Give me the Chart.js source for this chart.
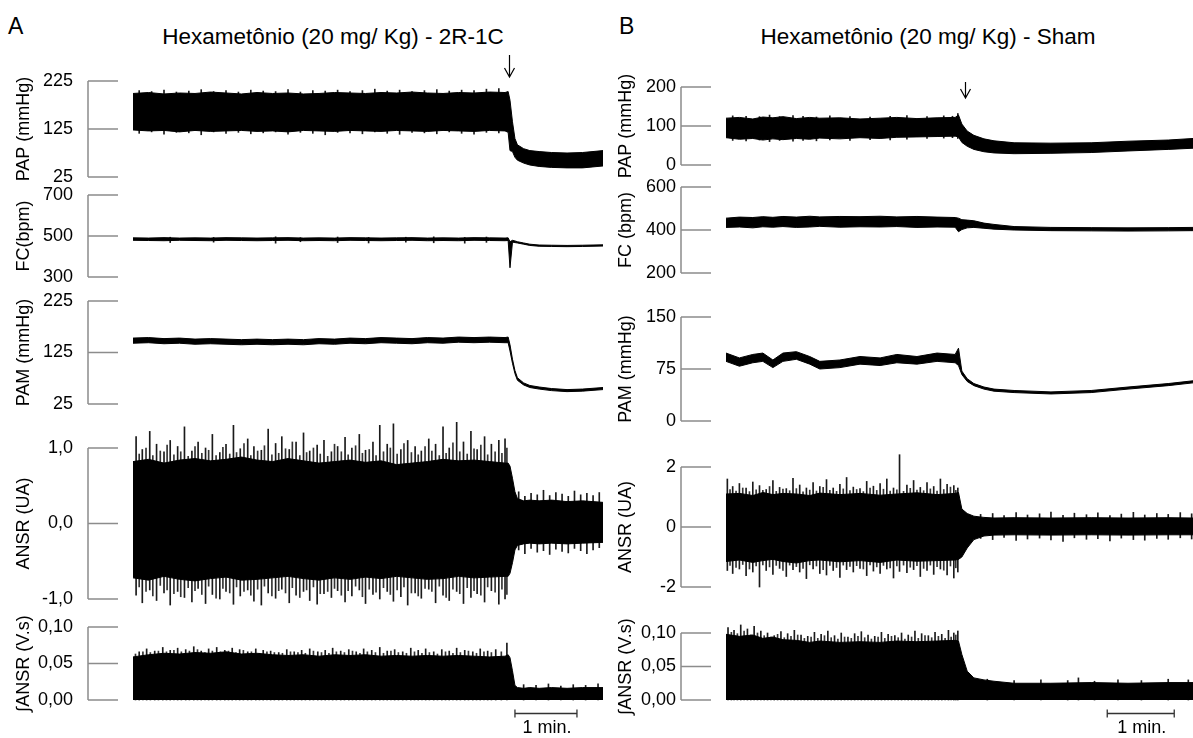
<!DOCTYPE html>
<html>
<head>
<meta charset="utf-8">
<script src="https://cdn.jsdelivr.net/npm/chart.js@4.4.0/dist/chart.umd.min.js"></script>
<style>
body { margin: 0; width: 1193px; height: 738px; overflow: hidden; background: #fff; position: relative;
       font-family: "Liberation Sans", Arial, sans-serif; }
canvas { position: absolute; }
.lbl { position: absolute; color: #000; white-space: nowrap; line-height: 1; }
</style>
</head>
<body>
<div class="lbl" style="left:8px;top:15px;font-size:23px">A</div>
<div class="lbl" style="left:619px;top:15px;font-size:23px">B</div>
<div class="lbl" style="left:333px;top:26px;font-size:22.5px;transform:translateX(-50%)">Hexametônio (20 mg/ Kg) - 2R-1C</div>
<div class="lbl" style="left:928px;top:26px;font-size:22.5px;transform:translateX(-50%)">Hexametônio (20 mg/ Kg) - Sham</div>
<script>
var FONT = '"Liberation Sans", Arial, sans-serif';

// ---- painel A (2R-1C), tempo em minutos ----
var tA = [0,0.25,0.5,0.75,1,1.25,1.5,1.75,2,2.25,2.5,2.75,3,3.25,3.5,3.75,4,4.25,4.5,4.75,5,5.25,5.5,5.75,6,
          6.05,6.08,6.12,6.16,6.2,6.3,6.4,6.55,6.75,7,7.25,7.58];
var tmaxA = 7.58, drugA = 6.06, barA = 6.16;

var papA_hi = [199,201,198,200,199,202,200,198,201,199,200,198,199,201,200,199,201,200,202,200,199,201,200,202,201,
               203,185,140,105,92,84,80,78,76,75,76,80];
var papA_lo = [123,121,122,119,122,120,121,122,120,121,119,122,121,120,122,121,120,122,121,120,122,121,120,122,121,
               118,80,78,66,60,54,50,47,45,44,44,48];
var papA_spkT = [0.1,0.3,0.5,0.7,0.9,1.1,1.3,1.5,1.7,1.9,2.1,2.3,2.5,2.7,2.9,3.1,3.3,3.5,3.7,3.9,4.1,4.3,4.5,4.7,4.9,5.1,5.3,5.5,5.7,5.9];
var papA_spkHi = [205,203,206,202,204,207,203,205,202,206,204,203,207,202,205,204,206,203,205,208,204,206,203,205,207,204,206,205,208,209];
var papA_spkLo = [116,119,114,118,117,113,119,116,118,115,117,119,114,118,116,113,118,117,115,119,116,114,118,117,115,119,116,114,118,117];

var fcA_hi = [491,490,492,490,491,490,492,491,490,491,492,490,491,490,492,491,490,491,492,490,491,490,492,491,490,
              491,472,479,476,472,466,460,456,455,454,455,457];
var fcA_lo = [479,478,477,479,478,477,479,478,477,478,479,477,478,477,479,478,477,478,479,477,478,477,479,478,477,
              478,345,470,468,466,460,454,450,449,448,449,451];
var fcA_spkT = [0.6,1.3,2.3,2.7,3.3,3.8,4.4,4.85,5.35,5.7];
var fcA_spkLo = [468,470,465,472,468,466,470,467,465,469];
var fcA_spkHi = [494,493,496,492,495,493,494,496,493,495];

var pamA_hi = [153,154,152,153,151,152,151,150,151,150,151,150,152,151,153,152,154,153,152,154,153,155,154,155,154,
               155,140,112,90,76,66,61,58,55,53,54,57];
var pamA_lo = [143,144,142,143,141,142,141,140,141,140,141,140,142,141,143,142,144,143,142,144,143,145,144,145,144,
               144,128,104,84,71,62,57,54,51,49,50,53];

var ansrA_hi = [0.82,0.85,0.80,0.84,0.86,0.83,0.85,0.88,0.84,0.82,0.86,0.83,0.80,0.82,0.84,0.81,0.83,0.78,0.80,0.82,0.85,0.83,0.84,0.82,0.80,
                0.80,0.76,0.60,0.42,0.33,0.30,0.31,0.30,0.31,0.29,0.30,0.28];
var ansrA_lo = [-0.72,-0.75,-0.70,-0.74,-0.76,-0.73,-0.71,-0.75,-0.74,-0.72,-0.70,-0.73,-0.75,-0.72,-0.74,-0.71,-0.73,-0.70,-0.72,-0.74,-0.73,-0.70,-0.72,-0.71,-0.70,
                -0.70,-0.66,-0.52,-0.35,-0.29,-0.27,-0.26,-0.27,-0.26,-0.27,-0.26,-0.25];
var ansrA_spkT = [0.05,0.15,0.27,0.38,0.50,0.60, 0.72,0.83,0.95,1.05,1.17,1.28, 1.40,1.50,1.62,1.73,1.85,1.95,
                  2.07,2.18,2.30,2.40,2.52,2.63, 2.75,2.85,2.97,3.08,3.20,3.30, 3.42,3.53,3.65,3.75,3.87,3.98,
                  4.10,4.20,4.32,4.43,4.55,4.65, 4.77,4.88,5.00,5.10,5.22,5.33, 5.45,5.55,5.67,5.78,5.90,6.00,
                  6.22,6.32,6.42,6.52,6.62,6.72,6.82,6.92,7.02,7.12,7.22,7.32,7.42,7.52];
var ansrA_spkHi = [1.15,0.98,1.22,1.05,0.95,1.10, 1.02,1.28,0.96,1.08,1.00,1.18, 0.94,1.05,1.30,0.99,1.12,1.02,
                   0.97,1.25,1.06,1.15,0.98,1.08, 1.20,0.96,1.04,1.10,0.95,1.02, 1.14,1.00,1.18,0.97,1.08,1.30,
                   1.05,1.32,0.98,1.10,1.02,0.96, 1.12,1.05,1.28,1.00,1.34,1.08, 1.22,0.98,1.15,1.05,1.10,1.12,
                   0.42,0.36,0.40,0.38,0.44,0.37,0.41,0.39,0.36,0.43,0.38,0.40,0.37,0.41];
var ansrA_spkLo = [-0.95,-1.05,-0.88,-1.02,-0.92,-1.08, -0.90,-0.98,-1.04,-0.86,-1.06,-0.94, -1.00,-0.90,-1.07,-0.96,-0.88,-1.03,
                   -1.08,-0.92,-0.99,-0.87,-1.05,-0.95, -0.90,-1.02,-1.07,-0.93,-0.98,-0.89, -1.04,-0.96,-0.88,-1.06,-0.94,-1.00,
                   -0.90,-1.03,-0.97,-1.08,-0.92,-0.99, -0.87,-1.05,-0.95,-1.02,-0.90,-1.06, -0.98,-0.93,-1.04,-0.89,-1.07,-1.00,
                   -0.35,-0.40,-0.33,-0.38,-0.36,-0.41,-0.34,-0.37,-0.39,-0.33,-0.36,-0.40,-0.35,-0.32];
// picos menores entre os maiores
var ansrA_minT = [0.10,0.21,0.32,0.44,0.55,0.66, 0.77,0.89,1.00,1.11,1.22,1.34, 1.45,1.56,1.67,1.79,1.90,2.01,
                  2.12,2.24,2.35,2.46,2.57,2.69, 2.80,2.91,3.02,3.14,3.25,3.36, 3.47,3.59,3.70,3.81,3.92,4.04,
                  4.15,4.26,4.37,4.49,4.60,4.71, 4.82,4.94,5.05,5.16,5.27,5.39, 5.50,5.61,5.72,5.84,5.95,6.03];
var ansrA_minHi = [0.92,1.00,0.90,0.96,1.04,0.91, 0.95,0.89,1.02,0.93,0.97,0.90, 1.01,0.92,0.94,1.06,0.90,0.96,
                   1.03,0.91,0.93,0.99,1.08,0.90, 0.94,1.00,0.92,0.89,1.05,0.95, 0.91,1.03,0.93,0.98,0.90,0.95,
                   1.00,0.92,1.06,0.94,0.91,1.02, 0.96,0.90,0.93,1.07,0.95,0.92, 0.99,1.04,0.91,0.95,0.93,1.00];
var ansrA_minLo = [-0.84,-0.90,-0.96,-0.82,-0.88,-0.93, -0.97,-0.85,-0.89,-0.94,-0.83,-0.99, -0.86,-0.92,-0.84,-0.90,-0.95,-0.87,
                   -0.83,-0.96,-0.89,-0.92,-0.85,-0.98, -0.88,-0.84,-0.93,-0.90,-0.86,-0.95, -0.89,-0.83,-0.97,-0.87,-0.91,-0.85,
                   -0.94,-0.88,-0.84,-0.92,-0.96,-0.86, -0.90,-0.83,-0.98,-0.87,-0.93,-0.85, -0.89,-0.95,-0.84,-0.91,-0.87,-0.94];

var intA_hi = [0.059,0.062,0.064,0.063,0.065,0.064,0.066,0.063,0.064,0.062,0.061,0.062,0.060,0.062,0.061,0.062,0.060,0.061,0.060,0.061,0.060,0.061,0.060,0.059,0.060,
               0.062,0.058,0.040,0.020,0.017,0.016,0.017,0.016,0.017,0.016,0.017,0.017];
var intA_spkT = [0.1,0.22,0.35,0.48,0.6,0.72, 0.85,0.98,1.1,1.22,1.35,1.48, 1.6,1.72,1.85,1.98,2.1,2.22,
                 2.35,2.48,2.6,2.72,2.85,2.98, 3.1,3.22,3.35,3.48,3.6,3.72, 3.85,3.98,4.1,4.22,4.35,4.48,
                 4.6,4.72,4.85,4.98,5.1,5.22, 5.35,5.48,5.6,5.72,5.85,6.03,
                 6.3,6.5,6.7,6.9,7.1,7.3,7.5];
var intA_spkHi = [0.066,0.070,0.067,0.072,0.068,0.071, 0.069,0.073,0.067,0.070,0.072,0.068, 0.071,0.069,0.066,0.070,0.068,0.067,
                  0.065,0.069,0.066,0.068,0.070,0.066, 0.068,0.071,0.067,0.069,0.066,0.070, 0.068,0.072,0.067,0.069,0.066,0.071,
                  0.068,0.070,0.066,0.069,0.067,0.071, 0.068,0.066,0.070,0.067,0.069,0.078,
                  0.021,0.020,0.022,0.019,0.021,0.020,0.022];
var intA_minT = [0.04,0.16,0.28,0.41,0.54,0.66, 0.78,0.91,1.04,1.16,1.28,1.41, 1.54,1.66,1.78,1.91,2.04,2.16,
                 2.28,2.41,2.54,2.66,2.78,2.91, 3.04,3.16,3.28,3.41,3.54,3.66, 3.78,3.91,4.04,4.16,4.28,4.41,
                 4.54,4.66,4.78,4.91,5.04,5.16, 5.28,5.41,5.54,5.66,5.78,5.94];
var intA_minHi = [0.063,0.066,0.065,0.067,0.066,0.068, 0.066,0.067,0.069,0.065,0.067,0.066, 0.067,0.065,0.068,0.066,0.064,0.066,
                  0.065,0.064,0.066,0.065,0.064,0.067, 0.065,0.064,0.066,0.065,0.067,0.064, 0.066,0.065,0.064,0.067,0.065,0.064,
                  0.066,0.064,0.065,0.063,0.066,0.064, 0.065,0.067,0.064,0.066,0.065,0.066];

// ---- painel B (Sham) ----
var tB = [0,0.2,0.4,0.55,0.7,0.85,1.05,1.25,1.4,1.7,2.0,2.3,2.55,2.85,3.15,3.42,
          3.47,3.52,3.6,3.7,3.85,4.0,4.3,4.85,5.45,6.0,6.6,6.97];
var tmaxB = 6.97, drugB = 3.57, barB = 5.69;

var papB_hi = [120,122,118,123,121,124,119,122,120,121,118,120,122,119,121,122, 128,105,87,76,67,62,57,56,57,61,64,68];
var papB_lo = [70,66,68,64,67,65,68,66,69,67,70,68,71,72,73,74, 72,58,48,40,34,31,29,30,32,36,40,43];
var papB_spkT = [0.1,0.3,0.5,0.65,0.8,1.0,1.15,1.35,1.55,1.85,2.15,2.45,2.7,3.0,3.25,3.38,3.46];
var papB_spkHi = [126,125,124,128,124,127,125,123,126,124,123,125,127,124,126,125,132];
var papB_spkLo = [63,62,64,60,63,61,63,62,64,63,65,64,66,68,69,70,68];

var fcB_hi = [455,460,458,462,459,463,460,464,461,463,462,464,461,463,460,458, 455,448,446,443,432,426,416,412,411,410,411,412];
var fcB_lo = [412,414,410,415,413,416,412,414,417,413,415,414,416,412,414,413, 392,402,410,412,408,404,400,397,396,395,396,397];

var pamB_hi = [98,91,96,98,88,98,100,93,86,88,93,91,96,93,98,96, 105,72,61,54,49,46,44,42,44,49,54,58];
var pamB_lo = [86,79,84,86,77,86,89,82,75,77,82,80,84,82,86,84, 80,67,57,51,46,43,41,39,41,46,51,55];

var ansrB_hi = [1.10,1.12,1.05,1.15,1.08,1.12,1.10,1.05,1.13,1.08,1.12,1.06,1.10,1.14,1.08,1.12, 1.15,0.60,0.45,0.36,0.32,0.30,0.31,0.30,0.31,0.30,0.31,0.30];
var ansrB_lo = [-1.15,-1.10,-1.18,-1.12,-1.08,-1.15,-1.20,-1.12,-1.10,-1.16,-1.12,-1.18,-1.10,-1.14,-1.12,-1.10, -1.08,-1.00,-0.70,-0.42,-0.30,-0.27,-0.26,-0.27,-0.26,-0.27,-0.26,-0.26];
var ansrB_spkT = [0.02,0.1,0.2,0.3,0.4,0.5, 0.6,0.7,0.8,0.9,1.0,1.1, 1.2,1.3,1.4,1.5,1.6,1.7,
                  1.8,1.9,2.0,2.1,2.2,2.3, 2.4,2.5,2.59,2.7,2.8,2.9, 3.0,3.1,3.2,3.3,3.4,3.46,
                  3.8,3.98,4.15,4.33,4.5,4.68,4.85,5.03,5.2,5.38,5.55,5.73,5.9,6.08,6.25,6.43,6.6,6.78,6.95];
var ansrB_spkHi = [1.60,1.35,1.45,1.30,1.50,1.38, 1.25,1.55,1.32,1.28,1.62,1.40, 1.30,1.48,1.35,1.58,1.30,1.42,
                   1.65,1.33,1.28,1.52,1.36,1.45, 1.60,1.30,2.41,1.40,1.55,1.32, 1.48,1.35,1.60,1.42,1.38,1.30,
                   0.42,0.45,0.38,0.48,0.40,0.44,0.50,0.39,0.46,0.41,0.47,0.38,0.43,0.49,0.40,0.45,0.42,0.48,0.44];
var ansrB_spkLo = [-1.45,-1.55,-1.40,-1.62,-1.50,-2.00, -1.45,-1.58,-1.38,-1.65,-1.42,-1.50, -1.72,-1.40,-1.55,-1.60,-1.45,-1.68,
                   -1.42,-1.50,-1.38,-1.62,-1.47,-1.55, -1.40,-1.70,-1.48,-1.52,-1.42,-1.65, -1.45,-1.58,-1.40,-1.60,-1.70,-1.50,
                   -0.38,-0.42,-0.35,-0.45,-0.40,-0.37,-0.43,-0.48,-0.36,-0.41,-0.39,-0.46,-0.37,-0.42,-0.44,-0.38,-0.41,-0.36,-0.40];
var ansrB_minT = [0.06,0.15,0.25,0.35,0.45,0.55, 0.65,0.75,0.85,0.95,1.05,1.15, 1.25,1.35,1.45,1.55,1.65,1.75,
                  1.85,1.95,2.05,2.15,2.25,2.35, 2.45,2.55,2.65,2.75,2.85,2.95, 3.05,3.15,3.25,3.35,3.43];
var ansrB_minHi = [1.25,1.20,1.30,1.18,1.24,1.22, 1.35,1.19,1.26,1.21,1.28,1.17, 1.23,1.20,1.32,1.22,1.19,1.27,
                   1.21,1.25,1.18,1.30,1.22,1.26, 1.20,1.24,1.19,1.29,1.23,1.21, 1.27,1.20,1.25,1.33,1.22];
var ansrB_minLo = [-1.28,-1.35,-1.25,-1.40,-1.30,-1.26, -1.33,-1.28,-1.45,-1.27,-1.32,-1.38, -1.26,-1.30,-1.42,-1.28,-1.35,-1.27,
                   -1.31,-1.29,-1.40,-1.26,-1.33,-1.28, -1.36,-1.30,-1.27,-1.34,-1.29,-1.38, -1.27,-1.32,-1.44,-1.30,-1.36];

var intB_hi = [0.098,0.095,0.097,0.092,0.094,0.090,0.089,0.086,0.088,0.086,0.087,0.086,0.088,0.087,0.088,0.089,
               0.088,0.068,0.043,0.033,0.030,0.028,0.025,0.025,0.026,0.025,0.026,0.026];
var intB_spkT = [0.03,0.12,0.22,0.32,0.42,0.52, 0.62,0.72,0.82,0.92,1.02,1.12, 1.22,1.32,1.42,1.52,1.62,1.72,
                 1.82,1.92,2.02,2.12,2.22,2.32, 2.42,2.52,2.62,2.72,2.82,2.92, 3.02,3.12,3.22,3.32,3.40,3.46,
                 3.9,4.3,4.7,5.1,5.26,5.5,5.85,6.2,6.6,6.9];
var intB_spkHi = [0.108,0.104,0.112,0.106,0.110,0.103, 0.100,0.096,0.102,0.099,0.104,0.097, 0.095,0.101,0.098,0.103,0.096,0.100,
                  0.094,0.099,0.102,0.097,0.095,0.101, 0.098,0.096,0.100,0.097,0.103,0.099, 0.096,0.101,0.098,0.104,0.100,0.103,
                  0.031,0.029,0.030,0.029,0.033,0.028,0.030,0.029,0.031,0.030];
var intB_minT = [0.08,0.17,0.27,0.37,0.47,0.57, 0.67,0.77,0.87,0.97,1.07,1.17, 1.27,1.37,1.47,1.57,1.67,1.77,
                 1.87,1.97,2.07,2.17,2.27,2.37, 2.47,2.57,2.67,2.77,2.87,2.97, 3.07,3.17,3.27,3.36,3.43];
var intB_minHi = [0.101,0.099,0.103,0.097,0.100,0.096, 0.094,0.098,0.093,0.095,0.097,0.092, 0.094,0.092,0.096,0.093,0.091,0.094,
                  0.092,0.095,0.093,0.091,0.094,0.092, 0.095,0.093,0.091,0.094,0.092,0.096, 0.093,0.095,0.092,0.094,0.097];


function pts(t, v) {
    return t.map(function (x, i) { return { x: x, y: v[i] }; });
}

function spk(t, lo, hi) {
    return t.map(function (x, i) { return { x: x, y: [lo ? lo[i] : 0, hi[i]] }; });
}

function band(t, hi, lo) {
    var ds = [{
        data: pts(t, hi), borderColor: '#000', backgroundColor: '#000', borderWidth: 1,
        pointRadius: 0, tension: 0, fill: lo ? '+1' : 'origin', clip: false
    }];
    if (lo) {
        ds.push({ data: pts(t, lo), borderColor: '#000', borderWidth: 1, pointRadius: 0, tension: 0, fill: false, clip: false });
    }
    return ds;
}

function hairs(t, lo, hi, col) {
    return { type: 'bar', data: spk(t, lo, hi), backgroundColor: col || '#1a1a1a', barThickness: 1,
             borderWidth: 0, clip: false, grouped: false };
}

function dec(n) {
    return function (v) { return v.toFixed(n).replace('.', ','); };
}
function plain(v) { return String(v); }

// colchete cinza do eixo y
var bracket = {
    id: 'bracket',
    afterDraw: function (chart) {
        var y = chart.scales.y, ctx = chart.ctx;
        var x0 = chart.chartArea.left - 45, x1 = chart.chartArea.left - 15;
        ctx.save();
        ctx.strokeStyle = '#8c8c8c';
        ctx.lineWidth = 1.5;
        ctx.beginPath();
        ctx.moveTo(x0, y.getPixelForValue(y.max));
        ctx.lineTo(x0, y.getPixelForValue(y.min));
        y.ticks.forEach(function (tk) {
            var p = y.getPixelForValue(tk.value);
            ctx.moveTo(x0, p);
            ctx.lineTo(x1, p);
        });
        ctx.stroke();
        ctx.restore();
    }
};

// seta da injecao e barra de escala de 1 min
var marks = {
    id: 'marks',
    afterDraw: function (chart, args, o) {
        var ctx = chart.ctx, xs = chart.scales.x, a = chart.chartArea;
        ctx.save();
        ctx.strokeStyle = '#000';
        ctx.fillStyle = '#000';
        if (o.arrow) {
            var x = Math.round(xs.getPixelForValue(o.arrow.t)) + 0.5;
            var y0 = a.top + o.arrow.top, y1 = a.top + o.arrow.bottom;
            ctx.lineWidth = 1.2;
            ctx.beginPath();
            ctx.moveTo(x, y0); ctx.lineTo(x, y1);
            ctx.moveTo(x - 5, y1 - 9); ctx.lineTo(x, y1); ctx.lineTo(x + 5, y1 - 9);
            ctx.stroke();
        }
        if (o.bar) {
            var b0 = xs.getPixelForValue(o.bar.t), b1 = xs.getPixelForValue(o.bar.t + 1);
            var yb = a.bottom + 13.5;
            ctx.strokeStyle = '#333';
            ctx.lineWidth = 1.3;
            ctx.beginPath();
            ctx.moveTo(b0, yb); ctx.lineTo(b1, yb);
            ctx.moveTo(b0, yb - 4); ctx.lineTo(b0, yb + 4);
            ctx.moveTo(b1, yb - 4); ctx.lineTo(b1, yb + 4);
            ctx.stroke();
            ctx.font = '18px ' + FONT;
            ctx.textAlign = 'center';
            ctx.textBaseline = 'middle';
            ctx.fillText('1 min.', (b0 + b1) / 2 + 1, a.bottom + 28);
        }
        ctx.restore();
    }
};

var panelA = { x: 0, w: 606, aw: 133, pr: 3, lp: 60, tp: 13, tmax: tmaxA };
var panelB = { x: 600, w: 593, aw: 126, pr: 0, lp: 50, tp: 15, tmax: tmaxB };

function trace(panel, top, h, pt, pb, yopt, datasets, extra) {
    var cv = document.createElement('canvas');
    cv.width = panel.w;
    cv.height = h;
    cv.style.left = panel.x + 'px';
    cv.style.top = top + 'px';
    document.body.appendChild(cv);
    return new Chart(cv, {
        type: 'line',
        data: { datasets: datasets },
        options: {
            responsive: false,
            animation: false,
            events: [],
            layout: { padding: { left: 0, right: panel.pr, top: pt, bottom: pb } },
            plugins: { legend: { display: false }, tooltip: { enabled: false }, marks: extra || {} },
            scales: {
                x: { type: 'linear', min: 0, max: panel.tmax, display: false, offset: false, grid: { offset: false } },
                y: {
                    position: 'left', weight: 1,
                    min: yopt.min, max: yopt.max,
                    ticks: { stepSize: yopt.step, callback: yopt.fmt, color: '#000',
                             font: { family: FONT, size: 18 }, padding: 0 },
                    grid: { display: false, drawTicks: false },
                    border: { display: false },
                    title: { display: true, text: yopt.title, color: '#000',
                             font: { family: FONT, size: 18 }, padding: { top: panel.tp, bottom: 0 } },
                    afterFit: function (s) { s.width = panel.aw - panel.lp; }
                },
                // espaco vazio entre os rotulos e a area dos tracados
                gap: {
                    type: 'linear', position: 'left', weight: 0, display: true,
                    ticks: { display: false }, grid: { display: false, drawTicks: false }, border: { display: false },
                    afterFit: function (s) { s.width = panel.lp; }
                }
            }
        },
        plugins: [bracket, marks]
    });
}

// painel A
trace(panelA, 51, 142, 30, 16, { min: 25, max: 225, step: 100, fmt: plain, title: 'PAP (mmHg)' },
      band(tA, papA_hi, papA_lo).concat([hairs(papA_spkT, papA_spkLo, papA_spkHi)]),
      { arrow: { t: drugA, top: -26, bottom: -4 } });
trace(panelA, 179, 114, 16, 16, { min: 300, max: 700, step: 200, fmt: plain, title: 'FC(bpm)' },
      band(tA, fcA_hi, fcA_lo).concat([hairs(fcA_spkT, fcA_spkLo, fcA_spkHi)]));
trace(panelA, 285, 135, 16, 16, { min: 25, max: 225, step: 100, fmt: plain, title: 'PAM (mmHg)' },
      band(tA, pamA_hi, pamA_lo));
trace(panelA, 418, 197, 30, 16, { min: -1, max: 1, step: 1, fmt: dec(1), title: 'ANSR (UA)' },
      band(tA, ansrA_hi, ansrA_lo).concat([hairs(ansrA_spkT, ansrA_spkLo, ansrA_spkHi),
                                           hairs(ansrA_minT, ansrA_minLo, ansrA_minHi, '#333')]));
trace(panelA, 611, 125, 16, 36, { min: 0, max: 0.1, step: 0.05, fmt: dec(2), title: '\u222BANSR (V.s)' },
      band(tA, intA_hi).concat([hairs(intA_spkT, null, intA_spkHi), hairs(intA_minT, null, intA_minHi, '#333')]),
      { bar: { t: barA } });

// painel B
trace(panelB, 71, 110, 16, 16, { min: 0, max: 200, step: 100, fmt: plain, title: 'PAP (mmHg)' },
      band(tB, papB_hi, papB_lo).concat([hairs(papB_spkT, papB_spkLo, papB_spkHi)]),
      { arrow: { t: drugB, top: -5, bottom: 11 } });
trace(panelB, 171, 118, 16, 16, { min: 200, max: 600, step: 200, fmt: plain, title: 'FC (bpm)' },
      band(tB, fcB_hi, fcB_lo));
trace(panelB, 301, 136, 16, 16, { min: 0, max: 150, step: 75, fmt: plain, title: 'PAM (mmHg)' },
      band(tB, pamB_hi, pamB_lo));
trace(panelB, 451, 152, 16, 16, { min: -2, max: 2, step: 2, fmt: plain, title: 'ANSR (UA)' },
      band(tB, ansrB_hi, ansrB_lo).concat([hairs(ansrB_spkT, ansrB_spkLo, ansrB_spkHi),
                                           hairs(ansrB_minT, ansrB_minLo, ansrB_minHi, '#333')]));
trace(panelB, 617, 119, 16, 36, { min: 0, max: 0.1, step: 0.05, fmt: dec(2), title: '\u222BANSR (V.s)' },
      band(tB, intB_hi).concat([hairs(intB_spkT, null, intB_spkHi), hairs(intB_minT, null, intB_minHi, '#333')]),
      { bar: { t: barB } });
</script>
</body>
</html>
